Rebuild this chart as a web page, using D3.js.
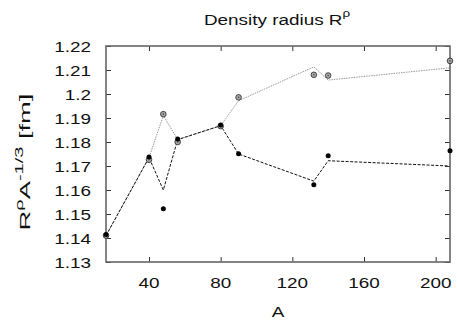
<!DOCTYPE html>
<html><head><meta charset="utf-8">
<script src="https://cdn.jsdelivr.net/npm/d3@7"></script>
<style>
html,body{margin:0;padding:0;background:#fff;}
text{font-family:"Liberation Sans",Arial,Helvetica,sans-serif;fill:#111;}
</style></head>
<body><svg id="c" width="457" height="327"></svg>
<script>
// Mass numbers
const massNumbers = [16, 40, 48, 56, 80, 90, 132, 140, 208];
// Filled dots
const dotValues = [1.1415, 1.1737, 1.1522, 1.1812, 1.1871, 1.1751, 1.1622, 1.1743, 1.1764];
// Open circles
const circleValues = [1.141, 1.1726, 1.1916, 1.1800, 1.1866, 1.1986, 1.2080, 1.2077, 1.2138];
// Dashed black line
const dashedLineValues = [1.141, 1.1735, 1.1600, 1.1810, 1.1868, 1.1750, 1.1637, 1.1722, 1.1700];
// Dotted gray line
const dottedLineValues = [1.141, 1.1735, 1.1910, 1.1810, 1.1868, 1.1972, 1.2113, 1.2058, 1.2109];
const xTicks = [40, 80, 120, 160, 200];
const yTicks = [1.13, 1.14, 1.15, 1.16, 1.17, 1.18, 1.19, 1.20, 1.21, 1.22];
const yTickLabels = ["1.13","1.14","1.15","1.16","1.17","1.18","1.19","1.2","1.21","1.22"];

const svg = d3.select("#c");
const L = 106, R = 450, T = 46, B = 262;
const x = d3.scaleLinear().domain([16, 208]).range([L, R]);
const y = d3.scaleLinear().domain([1.13, 1.22]).range([B, T]);
const SX = 1.22, FS = 15.5;

// Lines
const line = vals => d3.line().x((d, i) => x(massNumbers[i])).y(d => y(d))(vals);
svg.append("path").attr("d", line(dottedLineValues)).attr("fill", "none")
  .attr("stroke", "#999").attr("stroke-width", 1).attr("stroke-dasharray", "1.5,1");
svg.append("path").attr("d", line(dashedLineValues)).attr("fill", "none")
  .attr("stroke", "#111").attr("stroke-width", 1).attr("stroke-dasharray", "3,1.5");

// Axes box with inward ticks
const g = svg.append("g");
const axStroke = "#666";
g.append("g").attr("transform", `translate(0,${B})`)
  .call(d3.axisBottom(x).tickValues(xTicks).tickSizeInner(-5).tickSizeOuter(0).tickFormat(""));
g.append("g").attr("transform", `translate(0,${T})`)
  .call(d3.axisTop(x).tickValues(xTicks).tickSizeInner(-5).tickSizeOuter(0).tickFormat(""));
g.append("g").attr("transform", `translate(${L},0)`)
  .call(d3.axisLeft(y).tickValues(yTicks).tickSizeInner(-5).tickSizeOuter(0).tickFormat(""));
g.append("g").attr("transform", `translate(${R},0)`)
  .call(d3.axisRight(y).tickValues(yTicks).tickSizeInner(-5).tickSizeOuter(0).tickFormat(""));
g.selectAll(".domain").remove();
g.selectAll(".tick line").attr("stroke", "#333").attr("stroke-width", 1);
g.append("rect").attr("x", L).attr("y", T).attr("width", R - L).attr("height", B - T)
  .attr("fill", "none").attr("stroke", axStroke).attr("stroke-width", 1.6);

// Tick labels
xTicks.forEach(v => {
  svg.append("text").attr("transform", `translate(${x(v)},288) scale(${SX},1)`)
    .attr("text-anchor", "middle").attr("font-size", FS).text(v);
});
yTicks.forEach((v, i) => {
  svg.append("text").attr("transform", `translate(91,${y(v) + 5.5}) scale(${SX},1)`)
    .attr("text-anchor", "end").attr("font-size", FS).text(yTickLabels[i]);
});

// Markers
svg.append("g").selectAll("circle").data(circleValues).join("circle")
  .attr("cx", (d, i) => x(massNumbers[i])).attr("cy", d => y(d)).attr("r", 2.8)
  .attr("fill", "#aaa").attr("stroke", "#333").attr("stroke-width", 0.9);
svg.append("g").selectAll("circle").data(circleValues).join("circle")
  .attr("cx", (d, i) => x(massNumbers[i])).attr("cy", d => y(d)).attr("r", 0.8)
  .attr("fill", "#444");
svg.append("g").selectAll("circle").data(dotValues).join("circle")
  .attr("cx", (d, i) => x(massNumbers[i])).attr("cy", d => y(d)).attr("r", 2.5)
  .attr("fill", "#000");

// Title
const title = svg.append("text").attr("transform", `translate(277,25) scale(${SX},1)`)
  .attr("text-anchor", "middle").attr("font-size", FS);
title.append("tspan").text("Density radius R");
title.append("tspan").attr("dy", -8).attr("font-size", 11).text("ρ");

// X label
svg.append("text").attr("transform", `translate(278,317) scale(${SX},1)`)
  .attr("text-anchor", "middle").attr("font-size", FS).text("A");

// Y label (glyphs stretched along the text direction, as in the reference)
const yl = svg.append("text").attr("text-anchor", "middle").attr("font-size", 15);
yl.append("tspan").text("R");
yl.append("tspan").attr("dy", -7).attr("font-size", 11).text("ρ");
yl.append("tspan").attr("dy", 7).text("A");
yl.append("tspan").attr("dy", -7).attr("font-size", 11).text("-1/3");
yl.append("tspan").attr("dy", 7).text(" [fm]");
const len = yl.node().getComputedTextLength();
const sy = 137 / len;
yl.attr("transform", `translate(29.5,162) rotate(-90) scale(${sy},1)`);
</script></body></html>
